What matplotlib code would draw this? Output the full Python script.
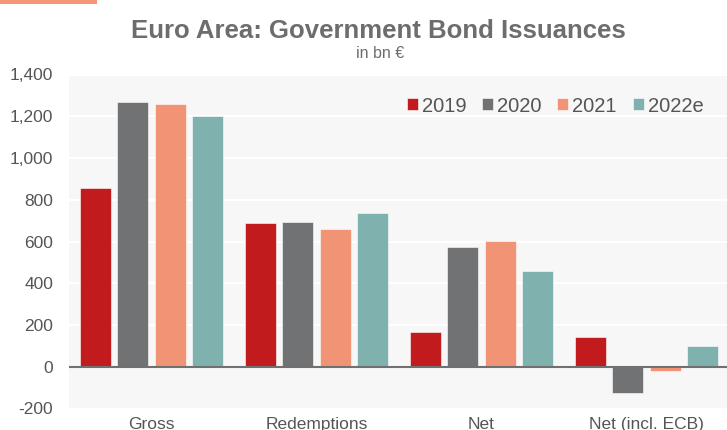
import numpy as np
import matplotlib
matplotlib.use("Agg")
import matplotlib.pyplot as plt
from matplotlib.patches import Rectangle

# --- DATA ---
categories = ["Gross", "Redemptions", "Net", "Net (incl. ECB)"]
years = ["2019", "2020", "2021", "2022e"]
v2019 = [857, 690, 167, 141]
v2020 = [1267, 694, 572, -125]
v2021 = [1261, 660, 602, -19]
v2022 = [1200, 738, 461, 98]
series = [v2019, v2020, v2021, v2022]
colors = ["#C21B1E", "#717274", "#F19476", "#7FB2AF"]
yticks = [-200, 0, 200, 400, 600, 800, 1000, 1200, 1400]

plt.rcParams["font.family"] = ["Liberation Sans", "DejaVu Sans"]

W, H = 727, 430
fig = plt.figure(figsize=(W / 100, H / 100), dpi=100)
fig.patch.set_facecolor("white")

# plot area (pixel based layout)
left, right, top, bottom = 69, 727, 74.5, 408.5
ax = fig.add_axes([left / W, 1 - bottom / H, (right - left) / W, (bottom - top) / H])
ax.set_facecolor("#F7F7F7")

x = np.arange(len(categories))
pitch = 0.227
width = 0.188
for i, (vals, c, lab) in enumerate(zip(series, colors, years)):
    ax.bar(x + (i - 1.5) * pitch, vals, width, color=c, label=lab,
           edgecolor="white", linewidth=0.4, zorder=3)

ax.set_ylim(-200, 1400)
ax.set_xlim(-0.5, 3.5 - 2 / 165)
ax.set_yticks(yticks)
ax.set_yticklabels([f"{t:,}" for t in yticks])
ax.set_xticks(x)
ax.set_xticklabels(categories)
ax.tick_params(axis="y", length=0, labelsize=12.5, labelcolor="#555555", pad=11.5)
ax.tick_params(axis="x", length=0, labelsize=12.5, labelcolor="#555555", pad=6)

ax.grid(axis="y", color="white", linewidth=1.5, zorder=1)
ax.set_axisbelow(True)
for s in ax.spines.values():
    s.set_visible(False)
ax.axhline(0, color="#707070", linewidth=1.5, zorder=4)

# title
fig.text(378 / W, 1 - 38.3 / H, "Euro Area: Government Bond Issuances",
         ha="center", va="baseline", fontsize=18.5, fontweight="bold", color="#6D6D6D")
fig.text(380 / W, 1 - 58.3 / H, "in bn €", ha="center", va="baseline",
         fontsize=11.5, color="#6D6D6D")

# small accent bar top-left
fig.patches.append(Rectangle((0, 1 - 4 / H), 97 / W, 4 / H, transform=fig.transFigure,
                             facecolor="#F4967A", edgecolor="none"))

leg = fig.legend(loc="center", bbox_to_anchor=(555 / W, 1 - 106 / H), ncol=4,
                 frameon=False, fontsize=14.5, handlelength=0.55, handleheight=0.55,
                 handletextpad=0.2, columnspacing=0.78, borderaxespad=0)
for t in leg.get_texts():
    t.set_color("#555555")

fig.savefig("out.png", dpi=100)
